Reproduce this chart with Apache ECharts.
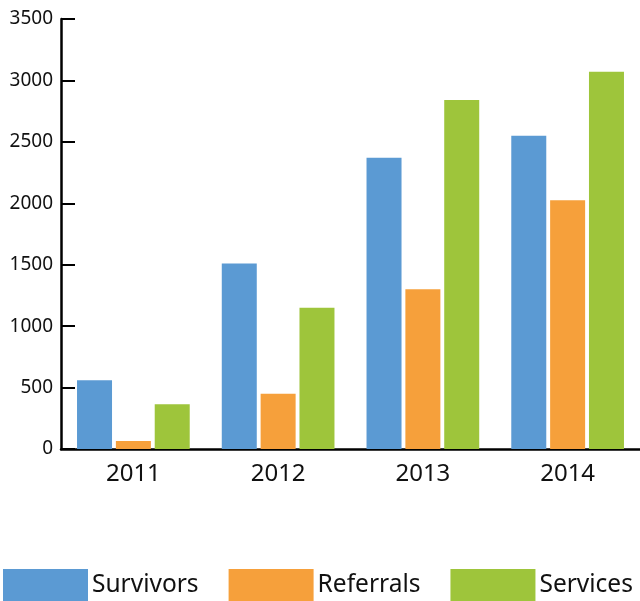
<!DOCTYPE html>
<html><head><meta charset="utf-8">
<script src="https://cdn.jsdelivr.net/npm/echarts@6/dist/echarts.min.js"></script>
<style>html,body{margin:0;padding:0;background:#fff}#c{width:640px;height:601px}</style>
</head><body><div id="c"></div>
<script>
const years = ['2011', '2012', '2013', '2014'];
const survivors = [560, 1510, 2370, 2550];
const referrals = [65, 450, 1300, 2025];
const services = [365, 1150, 2840, 3070];
const yTicks = { min: 0, max: 3500, interval: 500 };

const chart = echarts.init(document.getElementById('c'));
const font = '"Noto Sans", sans-serif';
const mk = (name, data, color) => ({
  name, type: 'bar', data, barWidth: 35, barGap: '11%',
  itemStyle: { color }, emphasis: { disabled: true }
});
chart.setOption({
  animation: false,
  grid: { left: 61, right: 0, top: 19, bottom: 152 },
  legend: {
    left: 3, top: 569, padding: 0, itemWidth: 85, itemHeight: 32, itemGap: 30,
    icon: 'rect', selectedMode: false,
    textStyle: { fontFamily: font, fontSize: 24.5, color: '#111', padding: [2, 0, 0, -1] },
    data: ['Survivors', 'Referrals', 'Services']
  },
  xAxis: {
    type: 'category', data: years,
    axisLine: { lineStyle: { color: '#000', width: 2.5 } },
    axisTick: { inside: true, length: 10, lineStyle: { color: '#000', width: 2 } },
    axisLabel: { fontFamily: font, fontSize: 24, color: '#111', margin: 13 }
  },
  yAxis: {
    type: 'value', min: yTicks.min, max: yTicks.max, interval: yTicks.interval,
    axisLine: { show: true, lineStyle: { color: '#000', width: 2.5 } },
    axisTick: { show: true, inside: true, length: 14, lineStyle: { color: '#000', width: 2 } },
    splitLine: { show: false },
    axisLabel: { fontFamily: font, fontSize: 19, color: '#111', margin: 8, formatter: v => String(v) }
  },
  series: [
    mk('Survivors', survivors, '#5B9AD3'),
    mk('Referrals', referrals, '#F6A03B'),
    mk('Services', services, '#9EC53B')
  ]
});
</script></body></html>
